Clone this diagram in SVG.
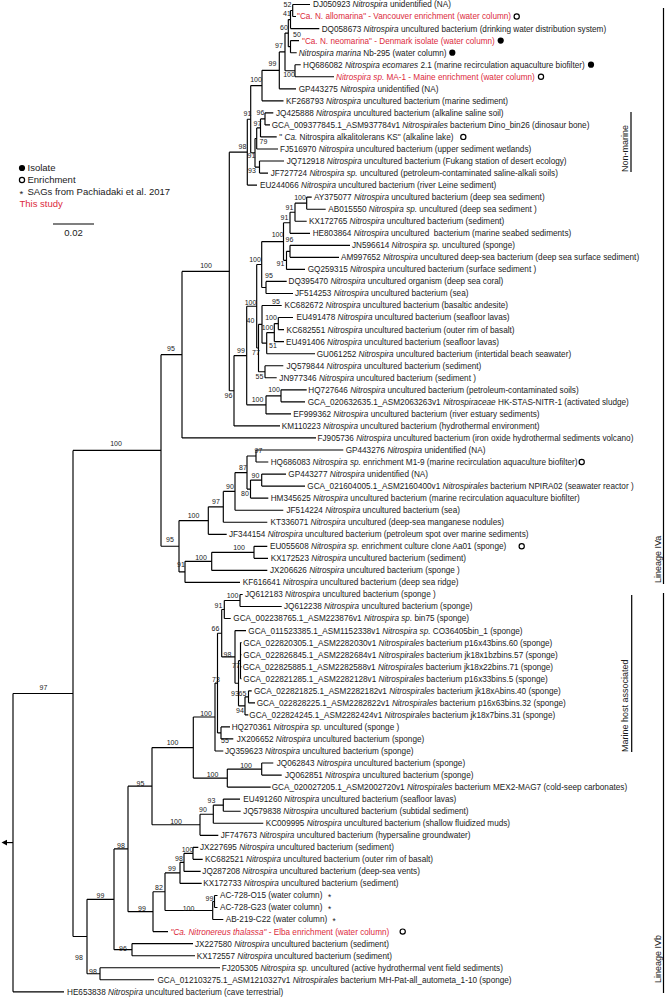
<svg xmlns="http://www.w3.org/2000/svg" width="665" height="1000" viewBox="0 0 665 1000">
<style>
text{font-family:"Liberation Sans",Arial,sans-serif;fill:#1a1a1a}
.t{font-size:8.2px}
.i{font-style:italic}
.r{fill:#dc2a3c}
.b{font-size:7px;text-anchor:middle}
.lg{font-size:9.5px}
.cl{font-size:9px}
.ln{fill:none;stroke:#000;stroke-width:1.15}
.bar{fill:none;stroke:#000;stroke-width:1.2}
.oc{fill:#fff;stroke:#000;stroke-width:1.2}
.fc{fill:#000}
</style>
<rect width="665" height="1000" fill="#fff"/>
<g id="connectors" class="ln">
<path d="M292.7 4.5V16.5M292.7 4.5H310M292.7 16.5H296"/>
<path d="M290.5 10.5V28.6M290.5 10.5H292.7M290.5 28.6H319.3"/>
<path d="M290.5 40.6V52.7M290.5 40.6H299M290.5 52.7H296.7"/>
<path d="M288.3 19.55V46.65M288.3 19.55H290.5M288.3 46.65H290.5"/>
<path d="M295 64.7V76.7M295 64.7H300.7M295 76.7H334"/>
<path d="M285 33.1V70.7M285 33.1H288.3M285 70.7H295"/>
<path d="M279.3 51.9V88.8M279.3 51.9H285M279.3 88.8H296"/>
<path d="M262 70.35V100.8M262 70.35H279.3M262 100.8H283.5"/>
<path d="M265 112.9V124.9M265 112.9H273.3M265 124.9H270"/>
<path d="M260.5 118.9V136.9M260.5 118.9H265M260.5 136.9H276.7"/>
<path d="M256.7 127.9V149M256.7 127.9H260.5M256.7 149H278"/>
<path d="M259.5 161V173.1M259.5 161H284M259.5 173.1H268"/>
<path d="M255 138.45V167.05M255 138.45H256.7M255 167.05H259.5"/>
<path d="M250.7 85.6V152.75M250.7 85.6H262M250.7 152.75H255"/>
<path d="M247.3 119.2V185.1M247.3 119.2H250.7M247.3 185.1H257"/>
<path d="M306.7 197.1V209.2M306.7 197.1H311.7M306.7 209.2H325.7"/>
<path d="M295 203.15V221.2M295 203.15H306.7M295 221.2H306.7"/>
<path d="M290 212.2V233.3M290 212.2H295M290 233.3H310"/>
<path d="M290 245.3V257.3M290 245.3H350M290 257.3H339"/>
<path d="M286.5 251.3V269.4M286.5 251.3H290M286.5 269.4H305"/>
<path d="M283.5 222.75V260.35M283.5 222.75H290M283.5 260.35H286.5"/>
<path d="M266 281.4V293.5M266 281.4H286.7M266 293.5H293"/>
<path d="M261.7 241.55V287.45M261.7 241.55H283.5M261.7 287.45H266"/>
<path d="M278.3 317.5V329.6M278.3 317.5H293M278.3 329.6H284"/>
<path d="M274.3 323.55V341.6M274.3 323.55H278.3M274.3 341.6H284"/>
<path d="M266.7 332.6V353.7M266.7 332.6H274.3M266.7 353.7H315"/>
<path d="M262 305.5V343.15M262 305.5H281.7M262 343.15H266.7"/>
<path d="M265 365.7V377.7M265 365.7H283.3M265 377.7H276.7"/>
<path d="M258.5 324.3V371.7M258.5 324.3H262M258.5 371.7H265"/>
<path d="M256.7 264.5V348M256.7 264.5H261.7M256.7 348H258.5"/>
<path d="M281 389.8V401.8M281 389.8H306.7M281 401.8H305"/>
<path d="M266 395.8V413.9M266 395.8H281M266 413.9H291"/>
<path d="M246.7 306.25V404.85M246.7 306.25H256.7M246.7 404.85H266"/>
<path d="M234 355.55V425.9M234 355.55H246.7M234 425.9H280"/>
<path d="M229.3 152.15V390.7M229.3 152.15H247.3M229.3 390.7H234"/>
<path d="M182 271.4V437.9M182 271.4H229.3M182 437.9H316"/>
<path d="M256 450V462M256 450H343.3M256 462H268.3"/>
<path d="M261.7 474.1V486.1M261.7 474.1H286M261.7 486.1H305"/>
<path d="M250.5 480.1V498.1M250.5 480.1H261.7M250.5 498.1H268.3"/>
<path d="M247 456V489.1M247 456H256M247 489.1H250.5"/>
<path d="M235 472.55V510.2M235 472.55H247M235 510.2H283.3"/>
<path d="M223.3 491.4V522.2M223.3 491.4H235M223.3 522.2H267.3"/>
<path d="M208.3 506.8V534.3M208.3 506.8H223.3M208.3 534.3H226.7"/>
<path d="M254 546.3V558.3M254 546.3H267.3M254 558.3H268"/>
<path d="M211.7 552.3V570.4M211.7 552.3H254M211.7 570.4H267.3"/>
<path d="M185 561.35V582.4M185 561.35H211.7M185 582.4H240"/>
<path d="M179 520.55V571.9M179 520.55H208.3M179 571.9H185"/>
<path d="M161 354.65V546.2M161 354.65H182M161 546.2H179"/>
<path d="M240 594.5V606.5M240 594.5H242.7M240 606.5H281.7"/>
<path d="M224.3 600.5V618.5M224.3 600.5H240M224.3 618.5H230.7"/>
<path d="M240.5 642.6V678.7M240.5 642.6H241.5M240.5 654.7H241.5M240.5 666.7H241.5M240.5 678.7H241.5"/>
<path d="M248.5 690.8V702.8M248.5 690.8H251.7M248.5 702.8H255"/>
<path d="M245 696.8V714.9M245 696.8H248.5M245 714.9H248.3"/>
<path d="M238.5 660.65V705.85M238.5 660.65H240.5M238.5 705.85H245"/>
<path d="M235 630.6V683.25M235 630.6H246M235 683.25H238.5"/>
<path d="M221.7 609.5V656.9M221.7 609.5H224.3M221.7 656.9H235"/>
<path d="M221 726.9V738.9M221 726.9H230M221 738.9H233.3"/>
<path d="M217.5 633.2V732.9M217.5 633.2H221.7M217.5 732.9H221"/>
<path d="M215 683.05V751M215 683.05H217.5M215 751H223.3"/>
<path d="M261.7 763V775.1M261.7 763H273.3M261.7 775.1H281.7"/>
<path d="M227.3 769.05V787.1M227.3 769.05H261.7M227.3 787.1H270.7"/>
<path d="M193.3 717V778.1M193.3 717H215M193.3 778.1H227.3"/>
<path d="M223.3 799.1V811.2M223.3 799.1H240M223.3 811.2H240.7"/>
<path d="M213.3 805.15V823.2M213.3 805.15H223.3M213.3 823.2H263.3"/>
<path d="M200 814.2V835.3M200 814.2H213.3M200 835.3H218.3"/>
<path d="M152 747.55V824.75M152 747.55H193.3M152 824.75H200"/>
<path d="M193 847.3V859.3M193 847.3H198.3M193 859.3H202.7"/>
<path d="M184 853.3V871.4M184 853.3H193M184 871.4H200.7"/>
<path d="M180 862.35V883.4M180 862.35H184M180 883.4H201.7"/>
<path d="M214.5 895.5V907.5M214.5 895.5H217.5M214.5 907.5H217.5"/>
<path d="M212.7 901.5V919.5M212.7 901.5H214.5M212.7 919.5H223.3"/>
<path d="M165 872.9V910.5M165 872.9H180M165 910.5H212.7"/>
<path d="M153 891.7V931.6M153 891.7H165M153 931.6H168"/>
<path d="M128 786.15V911.65M128 786.15H152M128 911.65H153"/>
<path d="M132 943.6V955.7M132 943.6H193M132 955.7H195"/>
<path d="M114 848.9V949.65M114 848.9H128M114 949.65H132"/>
<path d="M100 967.7V979.7M100 967.7H220M100 979.7H154"/>
<path d="M87 899.3V973.7M87 899.3H114M87 973.7H100"/>
<path d="M73 450.4V936.5M73 450.4H161M73 936.5H87"/>
<path d="M13 693.45V991.8M13 693.45H73M13 991.8H64"/>
<path d="M13 842.6H6"/>
<polygon points="1.5,842.6 7,839.8 7,845.4" fill="#000" stroke="none"/>
</g>
<g id="support">
<text class="b" x="287.5" y="7">52</text><text class="b" x="287" y="16">41</text><text class="b" x="284" y="30">60</text><text class="b" x="297" y="37">50</text><text class="b" x="279" y="48">97</text><text class="b" x="272.5" y="66">99</text><text class="b" x="289" y="76.5">100</text><text class="b" x="256" y="81.5">100</text>
<text class="b" x="247.5" y="116">91</text><text class="b" x="260.5" y="115">96</text><text class="b" x="257.5" y="126">97</text><text class="b" x="263.5" y="143.5">79</text><text class="b" x="242.5" y="148.5">98</text><text class="b" x="251.5" y="157.5">91</text><text class="b" x="252" y="172.5">93</text>
<text class="b" x="300" y="199.5">100</text><text class="b" x="289.5" y="209.5">91</text><text class="b" x="284.5" y="219.5">91</text><text class="b" x="277.5" y="236.5">100</text><text class="b" x="289.5" y="241.5">96</text><text class="b" x="255" y="261.5">100</text><text class="b" x="280.5" y="265.5">91</text><text class="b" x="206" y="267.5">100</text>
<text class="b" x="269" y="277.5">95</text><text class="b" x="250.5" y="304.5">100</text><text class="b" x="276" y="303.5">95</text><text class="b" x="271" y="320">100</text><text class="b" x="250.5" y="322.5">40</text><text class="b" x="267.5" y="330">100</text><text class="b" x="273" y="348">51</text><text class="b" x="241" y="352.5">99</text><text class="b" x="256" y="354.5">77</text>
<text class="b" x="259.5" y="378.5">55</text><text class="b" x="274" y="391.5">100</text><text class="b" x="228.5" y="397.5">96</text><text class="b" x="257.5" y="401.5">100</text><text class="b" x="258.5" y="452.5">97</text>
<text class="b" x="171" y="350.5">95</text><text class="b" x="116" y="446">100</text><text class="b" x="170" y="541.5">95</text><text class="b" x="181" y="566.5">91</text><text class="b" x="193.5" y="518">100</text><text class="b" x="43.5" y="689.5">97</text>
<text class="b" x="243" y="470">87</text><text class="b" x="255.5" y="477.5">90</text><text class="b" x="230" y="488.5">90</text><text class="b" x="245" y="495.5">80</text><text class="b" x="216" y="503.5">97</text>
<text class="b" x="239" y="549.5">100</text><text class="b" x="201" y="559.5">100</text><text class="b" x="232.5" y="597.5">100</text><text class="b" x="218.5" y="607.5">91</text><text class="b" x="215.5" y="630.5">66</text>
<text class="b" x="227.5" y="656.5">98</text><text class="b" x="236" y="667.5">77</text><text class="b" x="216" y="681.5">73</text><text class="b" x="235" y="695.5">93</text><text class="b" x="242.5" y="695.5">65</text><text class="b" x="240" y="712.5">94</text><text class="b" x="206" y="715.5">100</text>
<text class="b" x="225" y="742.5">55</text><text class="b" x="246" y="767.5">100</text><text class="b" x="212.5" y="776.5">100</text><text class="b" x="211.5" y="802.5">93</text><text class="b" x="203" y="811.5">90</text>
<text class="b" x="172.5" y="744.5">100</text><text class="b" x="140.5" y="785.5">95</text><text class="b" x="176" y="823.5">100</text><text class="b" x="121" y="847.5">98</text><text class="b" x="187.5" y="851.5">100</text><text class="b" x="179" y="861">98</text><text class="b" x="172" y="870.5">99</text><text class="b" x="159" y="889.5">82</text><text class="b" x="100.5" y="897.5">99</text><text class="b" x="209.5" y="900.5">99</text><text class="b" x="142" y="910.5">99</text><text class="b" x="188.5" y="910.5">100</text><text class="b" x="123" y="950.5">96</text><text class="b" x="79" y="959.5">98</text><text class="b" x="93" y="973.5">98</text>
</g>
<g id="n-DJ050923"><text class="t" x="313" y="7.4">DJ050923 <tspan class="i">Nitrospira</tspan> unidentified (NA)</text></g>
<g id="n-allomarina"><text class="t r" x="297" y="19.4">"Ca. N. allomarina" - Vancouver enrichment (water column)</text><circle class="oc" cx="516.7" cy="16.5" r="2.6"/></g>
<g id="n-DQ058673"><text class="t" x="321.7" y="31.5">DQ058673 <tspan class="i">Nitrospira</tspan> uncultured bacterium (drinking water distribution system)</text></g>
<g id="n-neomarina"><text class="t r" x="302" y="43.5">"Ca. N. neomarina" - Denmark isolate (water column)</text><circle class="fc" cx="500.7" cy="40.6" r="3.1"/></g>
<g id="n-Nb295"><text class="t" x="298.7" y="55.6"><tspan class="i">Nitrospira marina</tspan> Nb-295 (water column)</text><circle class="fc" cx="452.3" cy="52.7" r="3.1"/></g>
<g id="n-HQ686082"><text class="t" x="303" y="67.6">HQ686082 <tspan class="i">Nitrospira ecomares</tspan> 2.1 (marine recirculation aquaculture biofilter)</text><circle class="fc" cx="591" cy="64.7" r="3.1"/></g>
<g id="n-MA1"><text class="t r" x="336" y="79.6"><tspan class="i">Nitrospira sp.</tspan> MA-1 - Maine enrichment (water column)</text><circle class="oc" cx="541" cy="76.7" r="2.6"/></g>
<g id="n-GP443275"><text class="t" x="298.7" y="91.7">GP443275 <tspan class="i">Nitrospira</tspan> unidentified (NA)</text></g>
<g id="n-KF268793"><text class="t" x="286" y="103.7">KF268793 <tspan class="i">Nitrospira</tspan> uncultured bacterium (marine sediment)</text></g>
<g id="n-JQ425888"><text class="t" x="276" y="115.8">JQ425888 <tspan class="i">Nitrospira</tspan> uncultured bacterium (alkaline saline soil)</text></g>
<g id="n-GCA_009377845"><text class="t" x="271.7" y="127.8">GCA_009377845.1_ASM937784v1 <tspan class="i">Nitrospirales</tspan> bacterium Dino_bin26 (dinosaur bone)</text></g>
<g id="n-alkalitolerans"><text class="t" x="279.3" y="139.8">" <tspan class="i">Ca.</tspan> Nitrospira alkalitolerans KS" (alkaline lake)</text><circle class="oc" cx="463.3" cy="136.9" r="2.6"/></g>
<g id="n-FJ516970"><text class="t" x="280" y="151.9">FJ516970 <tspan class="i">Nitrospira</tspan> uncultured bacterium (upper sediment wetlands)</text></g>
<g id="n-JQ712918"><text class="t" x="286.7" y="163.9">JQ712918 <tspan class="i">Nitrospira</tspan> uncultured bacterium (Fukang station of desert ecology)</text></g>
<g id="n-JF727724"><text class="t" x="270.7" y="176">JF727724 <tspan class="i">Nitrospira sp.</tspan> uncultured (petroleum-contaminated saline-alkali soils)</text></g>
<g id="n-EU244066"><text class="t" x="260" y="188">EU244066 <tspan class="i">Nitrospira</tspan> uncultured bacterium (river Leine sediment)</text></g>
<g id="n-AY375077"><text class="t" x="314" y="200">AY375077 <tspan class="i">Nitrospira</tspan> uncultured bacterium (deep sea sediment)</text></g>
<g id="n-AB015550"><text class="t" x="328.3" y="212.1">AB015550 <tspan class="i">Nitrospira sp.</tspan> uncultured (deep sea sediment )</text></g>
<g id="n-KX172765"><text class="t" x="309" y="224.1">KX172765 <tspan class="i">Nitrospira</tspan> uncultured bacterium (sediment)</text></g>
<g id="n-HE803864"><text class="t" x="312.7" y="236.2" xml:space="preserve">HE803864 <tspan class="i">Nitrospira</tspan> uncultured  bacterium (marine seabed sediments)</text></g>
<g id="n-JN596614"><text class="t" x="352" y="248.2">JN596614 <tspan class="i">Nitrospira sp.</tspan> uncultured (sponge)</text></g>
<g id="n-AM997652"><text class="t" x="341" y="260.2">AM997652 <tspan class="i">Nitrospira</tspan> uncultured deep-sea bacterium (deep sea surface sediment)</text></g>
<g id="n-GQ259315"><text class="t" x="307.7" y="272.3">GQ259315 <tspan class="i">Nitrospira</tspan> uncultured bacterium (surface sediment )</text></g>
<g id="n-DQ395470"><text class="t" x="288.5" y="284.3">DQ395470 <tspan class="i">Nitrospira</tspan> uncultured organism (deep sea coral)</text></g>
<g id="n-JF514253"><text class="t" x="295" y="296.4">JF514253 <tspan class="i">Nitrospira</tspan> uncultured bacterium (sea)</text></g>
<g id="n-KC682672"><text class="t" x="284.5" y="308.4">KC682672 <tspan class="i">Nitrospira</tspan> uncultured bacterium (basaltic andesite)</text></g>
<g id="n-EU491478"><text class="t" x="296.5" y="320.4">EU491478 <tspan class="i">Nitrospira</tspan> uncultured bacterium (seafloor lavas)</text></g>
<g id="n-KC682551"><text class="t" x="286.5" y="332.5">KC682551 <tspan class="i">Nitrospira</tspan> uncultured bacterium (outer rim of basalt)</text></g>
<g id="n-EU491406"><text class="t" x="286" y="344.5">EU491406 <tspan class="i">Nitrospira</tspan> uncultured bacterium (seafloor lavas)</text></g>
<g id="n-GU061252"><text class="t" x="316.7" y="356.6">GU061252 <tspan class="i">Nitrospira</tspan> uncultured bacterium (intertidal beach seawater)</text></g>
<g id="n-JQ579844"><text class="t" x="286.5" y="368.6">JQ579844 <tspan class="i">Nitrospira</tspan> uncultured bacterium (sediment)</text></g>
<g id="n-JN977346"><text class="t" x="279.3" y="380.6">JN977346 <tspan class="i">Nitrospira</tspan> uncultured bacterium (sediment )</text></g>
<g id="n-HQ727646"><text class="t" x="308.3" y="392.7">HQ727646 <tspan class="i">Nitrospira</tspan> uncultured bacterium (petroleum-contaminated soils)</text></g>
<g id="n-GCA_020632635"><text class="t" x="307.7" y="404.7">GCA_020632635.1_ASM2063263v1 <tspan class="i">Nitrospiraceae</tspan> HK-STAS-NITR-1 (activated sludge)</text></g>
<g id="n-EF999362"><text class="t" x="293.3" y="416.8">EF999362 <tspan class="i">Nitrospira</tspan> uncultured bacterium (river estuary sediments)</text></g>
<g id="n-KM110223"><text class="t" x="281.7" y="428.8">KM110223 <tspan class="i">Nitrospira</tspan> uncultured bacterium (hydrothermal environment)</text></g>
<g id="n-FJ905736"><text class="t" x="317.5" y="440.8">FJ905736 <tspan class="i">Nitrospira</tspan> uncultured bacterium (iron oxide hydrothermal sediments volcano)</text></g>
<g id="n-GP443276"><text class="t" x="345.7" y="452.9">GP443276 <tspan class="i">Nitrospira</tspan> unidentified (NA)</text></g>
<g id="n-HQ686083"><text class="t" x="270.7" y="464.9">HQ686083 <tspan class="i">Nitrospira sp.</tspan> enrichment M1-9 (marine recirculation aquaculture biofilter)</text><circle class="oc" cx="581.7" cy="462" r="2.6"/></g>
<g id="n-GP443277"><text class="t" x="288.3" y="477">GP443277 <tspan class="i">Nitrospira</tspan> unidentified (NA)</text></g>
<g id="n-GCA_021604005"><text class="t" x="307.3" y="489">GCA_021604005.1_ASM2160400v1 <tspan class="i">Nitrospirales</tspan> bacterium NPIRA02 (seawater reactor )</text></g>
<g id="n-HM345625"><text class="t" x="270.7" y="501">HM345625 <tspan class="i">Nitrospira</tspan> uncultured bacterium (marine recirculation aquaculture biofilter)</text></g>
<g id="n-JF514224"><text class="t" x="286.5" y="513.1">JF514224 <tspan class="i">Nitrospira</tspan> uncultured bacterium (sea)</text></g>
<g id="n-KT336071"><text class="t" x="270.5" y="525.1">KT336071 <tspan class="i">Nitrospira</tspan> uncultured (deep-sea manganese nodules)</text></g>
<g id="n-JF344154"><text class="t" x="229" y="537.2">JF344154 <tspan class="i">Nitrospira</tspan> uncultured bacterium (petroleum spot over marine sediments)</text></g>
<g id="n-EU055608"><text class="t" x="270" y="549.2">EU055608 <tspan class="i">Nitrospira sp.</tspan> enrichment culture clone Aa01 (sponge)</text><circle class="oc" cx="521.7" cy="546.3" r="2.6"/></g>
<g id="n-KX172523"><text class="t" x="270.7" y="561.2">KX172523 <tspan class="i">Nitrospira</tspan> uncultured bacterium (sediment)</text></g>
<g id="n-JX206626"><text class="t" x="270" y="573.3">JX206626 <tspan class="i">Nitrospira</tspan> uncultured bacterium (sponge )</text></g>
<g id="n-KF616641"><text class="t" x="242.7" y="585.3">KF616641 <tspan class="i">Nitrospira</tspan> uncultured bacterium (deep sea ridge)</text></g>
<g id="n-JQ612183"><text class="t" x="245" y="597.4">JQ612183 <tspan class="i">Nitrospira</tspan> uncultured bacterium (sponge )</text></g>
<g id="n-JQ612238"><text class="t" x="284" y="609.4">JQ612238 <tspan class="i">Nitrospira</tspan> uncultured bacterium (sponge)</text></g>
<g id="n-GCA_002238765"><text class="t" x="233.3" y="621.4">GCA_002238765.1_ASM223876v1 <tspan class="i">Nitrospira sp.</tspan> bin75 (sponge)</text></g>
<g id="n-GCA_011523385"><text class="t" x="248.3" y="633.5">GCA_011523385.1_ASM1152338v1 <tspan class="i">Nitrospira sp.</tspan> CO36405bin_1 (sponge)</text></g>
<g id="n-GCA_022820305"><text class="t" x="243.3" y="645.5">GCA_022820305.1_ASM2282030v1 <tspan class="i">Nitrospirales</tspan> bacterium p16x43bins.60 (sponge)</text></g>
<g id="n-GCA_022826845"><text class="t" x="243.3" y="657.6">GCA_022826845.1_ASM2282684v1 <tspan class="i">Nitrospirales</tspan> bacterium jk18x1bzbins.57 (sponge)</text></g>
<g id="n-GCA_022825885"><text class="t" x="242.7" y="669.6">GCA_022825885.1_ASM2282588v1 <tspan class="i">Nitrospirales</tspan> bacterium jk18x22bins.71 (sponge)</text></g>
<g id="n-GCA_022821285"><text class="t" x="243.3" y="681.6">GCA_022821285.1_ASM2282128v1 <tspan class="i">Nitrospirales</tspan> bacterium p16x33bins.5 (sponge)</text></g>
<g id="n-GCA_022821825"><text class="t" x="254" y="693.7">GCA_022821825.1_ASM2282182v1 <tspan class="i">Nitrospirales</tspan> bacterium jk18xAbins.40 (sponge)</text></g>
<g id="n-GCA_022828225"><text class="t" x="256.7" y="705.7">GCA_022828225.1_ASM2282822v1 <tspan class="i">Nitrospirales</tspan> bacterium p16x63bins.32 (sponge)</text></g>
<g id="n-GCA_022824245"><text class="t" x="249.3" y="717.8">GCA_022824245.1_ASM2282424v1 <tspan class="i">Nitrospirales</tspan> bacterium jk18x7bins.31 (sponge)</text></g>
<g id="n-HQ270361"><text class="t" x="231.7" y="729.8">HQ270361 <tspan class="i">Nitrospira sp.</tspan> uncultured (sponge )</text></g>
<g id="n-JX206652"><text class="t" x="236.7" y="741.8">JX206652 <tspan class="i">Nitrospira</tspan> uncultured bacterium (sponge)</text></g>
<g id="n-JQ359623"><text class="t" x="225" y="753.9">JQ359623 <tspan class="i">Nitrospira</tspan> uncultured bacterium (sponge)</text></g>
<g id="n-JQ062843"><text class="t" x="276.7" y="765.9">JQ062843 <tspan class="i">Nitrospira</tspan> uncultured bacterium (sponge)</text></g>
<g id="n-JQ062851"><text class="t" x="285" y="778">JQ062851 <tspan class="i">Nitrospira</tspan> uncultured bacterium (sponge)</text></g>
<g id="n-GCA_020027205"><text class="t" x="271.7" y="790">GCA_020027205.1_ASM2002720v1 <tspan class="i">Nitrospirales</tspan> bacterium MEX2-MAG7 (cold-seep carbonates)</text></g>
<g id="n-EU491260"><text class="t" x="243.3" y="802">EU491260 <tspan class="i">Nitrospira</tspan> uncultured bacterium (seafloor lavas)</text></g>
<g id="n-JQ579838"><text class="t" x="243.3" y="814.1">JQ579838 <tspan class="i">Nitrospira</tspan> uncultured bacterium (subtidal sediment)</text></g>
<g id="n-KC009995"><text class="t" x="265.7" y="826.1">KC009995 <tspan class="i">Nitrospira</tspan> uncultured bacterium (shallow fluidized muds)</text></g>
<g id="n-JF747673"><text class="t" x="220.7" y="838.2">JF747673 <tspan class="i">Nitrospira</tspan> uncultured bacterium (hypersaline groundwater)</text></g>
<g id="n-JX227695"><text class="t" x="200" y="850.2">JX227695 <tspan class="i">Nitrospira</tspan> uncultured bacterium (sediment)</text></g>
<g id="n-KC682521"><text class="t" x="205" y="862.2">KC682521 <tspan class="i">Nitrospira</tspan> uncultured bacterium (outer rim of basalt)</text></g>
<g id="n-JQ287208"><text class="t" x="202.3" y="874.3">JQ287208 <tspan class="i">Nitrospira</tspan> uncultured bacterium (deep-sea vents)</text></g>
<g id="n-KX172733"><text class="t" x="203.3" y="886.3">KX172733 <tspan class="i">Nitrospira</tspan> uncultured bacterium (sediment)</text></g>
<g id="n-AC-728-O15"><text class="t" x="220" y="898.4">AC-728-O15 (water column)</text><text class="t" x="328" y="900.4">*</text></g>
<g id="n-AC-728-G23"><text class="t" x="220" y="910.4">AC-728-G23 (water column)</text><text class="t" x="328" y="912.4">*</text></g>
<g id="n-AB-219-C22"><text class="t" x="225.7" y="922.4">AB-219-C22 (water column)</text><text class="t" x="332.5" y="924.4">*</text></g>
<g id="n-thalassa"><text class="t r" x="170.5" y="934.5"><tspan class="i">"Ca. Nitronereus thalassa"</tspan> - Elba enrichment (water column)</text><circle class="oc" cx="402.7" cy="931.6" r="2.6"/></g>
<g id="n-JX227580"><text class="t" x="195" y="946.5">JX227580 <tspan class="i">Nitrospira</tspan> uncultured bacterium (sediment)</text></g>
<g id="n-KX172557"><text class="t" x="196.7" y="958.6">KX172557 <tspan class="i">Nitrospira</tspan> uncultured bacterium (sediment)</text></g>
<g id="n-FJ205305"><text class="t" x="221.7" y="970.6">FJ205305 <tspan class="i">Nitrospira sp.</tspan> uncultured (active hydrothermal vent field sediments)</text></g>
<g id="n-GCA_012103275"><text class="t" x="157.5" y="982.6">GCA_012103275.1_ASM1210327v1 <tspan class="i">Nitrospirales</tspan> bacterium MH-Pat-all_autometa_1-10 (sponge)</text></g>
<g id="n-HE653838"><text class="t" x="67" y="994.7">HE653838 <tspan class="i">Nitrospira</tspan> uncultured bacterium (cave terrestrial)</text></g>
<g id="legend">
<circle class="fc" cx="22" cy="168" r="3.1"/><text class="lg" x="27.5" y="171.3">Isolate</text>
<circle class="oc" cx="22" cy="180" r="2.6"/><text class="lg" x="27.5" y="183.3">Enrichment</text>
<text class="lg" x="19.5" y="197.3">*</text><text class="lg" x="27.5" y="195.3">SAGs from Pachiadaki et al. 2017</text>
<text class="lg r" x="19.5" y="207.3">This study</text>
</g>
<g id="scale-bar"><path class="bar" d="M53 224H94"/><text class="lg" x="73.5" y="235.5" text-anchor="middle">0.02</text></g>
<g id="clade-non-marine"><path class="bar" d="M631 112V172"/><text class="cl" transform="translate(628 172) rotate(-90)">Non-marine</text></g>
<g id="clade-marine-host-associated"><path class="bar" d="M631.7 595V752"/><text class="cl" transform="translate(628 752) rotate(-90)">Marine host associated</text></g>
<g id="clade-lineage-IVa"><path class="bar" d="M663.5 8V584"/><text class="cl" transform="translate(660.5 583) rotate(-90)">Lineage IVa</text></g>
<g id="clade-lineage-IVb"><path class="bar" d="M663.5 593V993"/><text class="cl" transform="translate(660.5 983) rotate(-90)">Lineage IVb</text></g>
</svg>
